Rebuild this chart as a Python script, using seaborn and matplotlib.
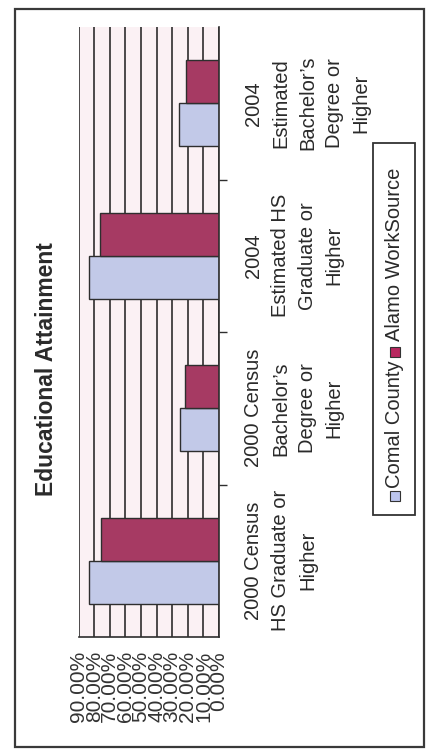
import matplotlib
matplotlib.use("Agg")
import matplotlib.pyplot as plt
import matplotlib.ticker as ticker
from matplotlib.patches import Rectangle
import pandas as pd
import seaborn as sns

# ── data ────────────────────────────────────────────────────────────────────
categories = [
    "2000 Census\nHS Graduate or\nHigher",
    "2000 Census\nBachelor\u2019s\nDegree or\nHigher",
    "2004\nEstimated HS\nGraduate or\nHigher",
    "2004\nEstimated\nBachelor\u2019s\nDegree or\nHigher",
]
series = ["Comal County", "Alamo WorkSource"]
comal_vals = [83.1, 25.0, 83.2, 25.4]
alamo_vals = [75.8, 21.6, 76.3, 21.2]
value_ticks = [0, 10, 20, 30, 40, 50, 60, 70, 80, 90]

# ── style ───────────────────────────────────────────────────────────────────
W, H = 441, 755
CLR_COMAL = "#bcc5ee"
CLR_ALAMO = "#b8285f"
EDGE = "#2e2e2e"
PLOT_BG = "#fbf1f4"
TXT = "#2a2a2a"

sns.set_style("white")
plt.rcParams["font.family"] = ["Liberation Sans", "DejaVu Sans"]


def fx(px):
    return px / W


def fy(py):
    return 1 - py / H


df = pd.DataFrame({
    "category": categories * 2,
    "series": [series[0]] * 4 + [series[1]] * 4,
    "value": comal_vals + alamo_vals,
})

fig = plt.figure(figsize=(W / 100, H / 100), dpi=100, facecolor="white")
ax = fig.add_axes([fx(78.6), fy(637), fx(219) - fx(78.6), fy(27) - fy(637)])
ax.set_facecolor(PLOT_BG)

sns.barplot(data=df, x="value", y="category", hue="series", order=categories,
            hue_order=series, orient="h", width=0.565,
            palette={series[0]: CLR_COMAL, series[1]: CLR_ALAMO},
            edgecolor=EDGE, linewidth=1.0, legend=False, ax=ax)

ax.set_xlim(90, 0)
ax.set_ylim(-0.5, 3.5)
ax.set_xlabel("")
ax.set_ylabel("")

# value axis (bottom)
ax.set_xticks(value_ticks)
ax.xaxis.set_major_formatter(ticker.PercentFormatter(xmax=100, decimals=2))
ax.tick_params(axis="x", direction="out", length=6, width=1, color=EDGE,
               pad=4, labelsize=15, labelcolor="#333333", labelrotation=90)
for lab in ax.get_xticklabels():
    lab.set_va("top")
    lab.set_ha("center")
ax.grid(axis="x", color="#1c1c1c", lw=1.1)
ax.grid(axis="y", visible=False)
ax.set_axisbelow(True)

# category axis (right)
ax.yaxis.tick_right()
ax.set_yticks([0.5, 1.5, 2.5], labels=[])
ax.set_yticks(range(len(categories)), labels=categories, minor=True)
ax.tick_params(axis="y", which="major", direction="out", length=6, width=1,
               color=EDGE, left=False, right=True)
ax.tick_params(axis="y", which="minor", length=0, pad=18, left=False, right=True,
               labelleft=False, labelright=True, labelsize=14.5,
               labelcolor=TXT, labelrotation=90)
for lab in ax.get_yticklabels(minor=True):
    lab.set_ha("left")
    lab.set_va("center")
    lab.set_multialignment("center")
    lab.set_linespacing(1.53)

for side in ["top", "left"]:
    ax.spines[side].set_visible(False)
for side in ["bottom", "right"]:
    ax.spines[side].set_color(EDGE)
    ax.spines[side].set_linewidth(1.2)

# title
fig.text(fx(47), fy(369), "Educational Attainment", rotation=90,
         ha="center", va="center", fontsize=16.5, fontweight="bold", color=TXT)

# legend (rotated, drawn by hand)
fig.patches.append(Rectangle((fx(373), fy(515)), fx(415) - fx(373),
                             fy(143) - fy(515), transform=fig.transFigure,
                             facecolor="white", edgecolor="#333333", lw=1.3))
for clr, label, sq_y, txt_y in [(CLR_COMAL, series[0], 496, 488),
                                (CLR_ALAMO, series[1], 352, 341)]:
    fig.patches.append(Rectangle((fx(390), fy(sq_y + 5)), fx(10), fy(0) - fy(10),
                                 transform=fig.transFigure, facecolor=clr,
                                 edgecolor="#333333", lw=0.8))
    fig.text(fx(395), fy(txt_y), label, rotation=90, ha="center", va="bottom",
             fontsize=14.5, color=TXT)

# outer border
fig.patches.append(Rectangle((fx(15), fy(747)), fx(424) - fx(15), fy(9) - fy(747),
                             transform=fig.transFigure, fill=False,
                             edgecolor="#3a3a3a", lw=1.6))

fig.savefig("out.png", dpi=100)
